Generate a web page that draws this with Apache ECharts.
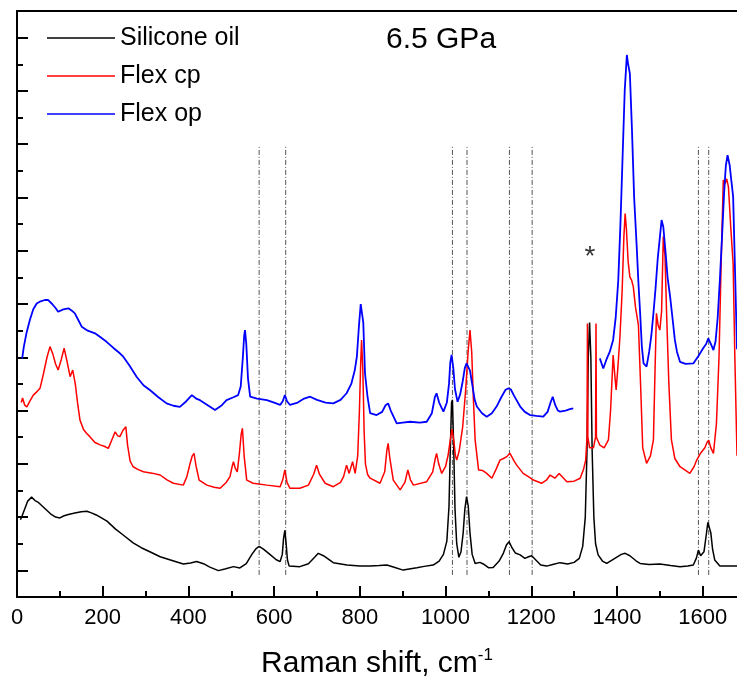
<!DOCTYPE html>
<html>
<head>
<meta charset="utf-8">
<script src="https://cdn.jsdelivr.net/npm/echarts@6/dist/echarts.min.js"></script>
<style>
  html, body { margin: 0; padding: 0; background: #ffffff; }
  #chart { width: 737px; height: 685px; }
</style>
</head>
<body>
<div id="chart"></div>
<script>
// Axis ticks
const xMajorTicks = [0, 200, 400, 600, 800, 1000, 1200, 1400, 1600];
const xMinorTicks = [100, 300, 500, 700, 900, 1100, 1300, 1500];
const yMajorTicks = [1, 3, 5, 7, 9, 11, 13, 15, 17, 19, 21];
const yMinorTicks = [2, 4, 6, 8, 10, 12, 14, 16, 18, 20];

const seriesNames = ['Silicone oil', 'Flex cp', 'Flex op'];
const pressureLabel = '6.5 GPa';

// Raman spectra: [shift in cm-1, intensity (a.u., stacked)]
const siliconeOil = [
  [8,2.9],[12,3.05],[18,3.3],[25,3.6],[34,3.75],[42,3.62],[50,3.55],[60,3.4],[70,3.25],[80,3.1],
  [90,3.0],[100,2.97],[110,3.05],[120,3.1],[135,3.15],[150,3.2],[163,3.22],[175,3.15],[185,3.08],[194,3.0],
  [210,2.85],[230,2.55],[250,2.3],[271,2.03],[290,1.85],[310,1.7],[334,1.51],[360,1.38],[388,1.24],[405,1.28],
  [419,1.33],[435,1.25],[450,1.12],[470,0.99],[485,1.05],[505,1.14],[520,1.09],[535,1.25],[548,1.6],[558,1.82],
  [565,1.9],[575,1.8],[590,1.6],[605,1.4],[614,1.33],[619,1.6],[622,2.2],[625,2.5],[628,2.0],[631,1.4],
  [635,1.16],[660,1.14],[680,1.25],[695,1.5],[703,1.64],[715,1.55],[738,1.29],[770,1.2],[800,1.16],[824,1.16],
  [845,1.18],[863,1.2],[880,1.12],[901,1.01],[915,1.05],[933,1.1],[950,1.15],[971,1.2],[985,1.35],[995,1.6],
  [1003,2.1],[1008,3.4],[1011,5.5],[1014,7.3],[1016,7.4],[1019,5.6],[1022,3.3],[1026,2.0],[1031,1.49],[1036,1.7],
  [1041,2.4],[1045,3.3],[1049,3.77],[1053,3.4],[1057,2.4],[1062,1.6],[1069,1.26],[1080,1.3],[1088,1.24],[1100,1.1],
  [1111,1.11],[1125,1.35],[1135,1.65],[1142,1.95],[1148,2.08],[1155,1.85],[1163,1.65],[1174,1.58],[1185,1.45],[1195,1.52],
  [1201,1.55],[1210,1.4],[1222,1.2],[1236,1.16],[1250,1.22],[1267,1.29],[1285,1.24],[1300,1.3],[1312,1.45],[1320,1.9],
  [1326,3.0],[1330,5.5],[1333,9.0],[1336,10.3],[1339,9.0],[1342,5.5],[1346,3.0],[1350,2.0],[1356,1.58],[1366,1.35],
  [1376,1.26],[1395,1.45],[1410,1.6],[1419,1.64],[1430,1.55],[1445,1.35],[1454,1.26],[1475,1.22],[1500,1.24],[1525,1.18],
  [1547,1.14],[1565,1.16],[1578,1.2],[1585,1.45],[1590,1.76],[1595,1.55],[1598,1.49],[1603,1.7],[1608,2.3],[1612,2.8],
  [1615,2.85],[1619,2.4],[1623,1.8],[1628,1.39],[1640,1.16],[1660,1.16],[1680,1.16]
];

const flexCp = [
  [10,7.3],[13,7.47],[18,7.2],[23,7.14],[30,7.35],[38,7.58],[46,7.7],[54,7.85],[62,8.4],[70,9.0],
  [77,9.4],[84,9.1],[90,8.75],[96,8.52],[103,8.9],[110,9.34],[116,8.9],[124,8.27],[130,8.52],[136,8.0],
  [142,7.2],[147,6.64],[155,6.3],[162,6.15],[170,6.02],[182,5.8],[194,5.71],[205,5.65],[213,5.58],[220,5.85],
  [229,6.2],[235,6.05],[240,6.02],[247,6.25],[254,6.39],[258,5.7],[264,5.1],[271,4.89],[283,4.78],[295,4.7],
  [315,4.65],[334,4.58],[350,4.4],[365,4.27],[388,4.2],[396,4.5],[404,5.02],[409,5.3],[413,5.39],[418,4.9],
  [425,4.39],[443,4.2],[460,4.12],[474,4.08],[488,4.3],[497,4.52],[502,4.9],[505,5.08],[509,4.85],[514,4.7],
  [519,5.4],[523,6.1],[526,6.33],[530,5.3],[536,4.39],[551,4.27],[583,4.2],[614,4.14],[620,4.4],[625,4.77],
  [630,4.3],[637,4.08],[660,4.08],[680,4.2],[692,4.6],[699,4.95],[706,4.6],[719,4.27],[738,4.14],[755,4.3],
  [762,4.52],[769,4.95],[775,4.64],[783,5.08],[789,4.64],[795,5.3],[799,7.0],[802,8.8],[804,9.65],[807,8.5],
  [810,6.2],[813,5.0],[818,4.6],[824,4.46],[847,4.27],[858,4.7],[863,5.5],[866,5.77],[870,5.2],[878,4.39],
  [894,4.02],[905,4.3],[912,4.77],[918,4.4],[925,4.2],[956,4.33],[970,4.7],[976,5.2],[979,5.39],[984,5.0],
  [991,4.64],[1000,4.9],[1006,5.33],[1011,5.9],[1015,6.3],[1019,5.9],[1023,5.3],[1026,5.14],[1032,5.5],[1040,6.4],
  [1047,7.8],[1053,9.3],[1057,10.02],[1061,9.2],[1065,7.4],[1069,5.9],[1077,4.77],[1086,4.75],[1096,4.64],[1108,4.46],
  [1118,4.8],[1127,5.14],[1135,5.2],[1143,5.27],[1150,5.4],[1154,5.45],[1160,5.1],[1166,4.95],[1181,4.64],[1195,4.5],
  [1205,4.39],[1224,4.27],[1236,4.4],[1244,4.58],[1255,4.46],[1265,4.64],[1283,4.33],[1300,4.35],[1314,4.46],[1322,4.8],
  [1327,5.14],[1330,6.0],[1331,10.27],[1332,6.0],[1336,5.6],[1345,5.6],[1350,6.0],[1351,10.27],[1352,6.0],[1360,5.7],
  [1370,5.6],[1380,5.9],[1385,7.0],[1391,9.08],[1395,8.3],[1398,7.77],[1402,8.6],[1407,9.8],[1412,11.5],[1416,13.5],
  [1419,14.4],[1422,13.8],[1426,12.6],[1430,12.02],[1434,11.9],[1438,11.65],[1443,10.9],[1450,10.2],[1455,8.0],[1460,5.6],
  [1469,5.02],[1478,5.3],[1485,5.9],[1488,8.0],[1492,10.65],[1496,10.2],[1500,10.02],[1504,10.71],[1508,13.53],[1512,12.8],
  [1516,10.5],[1521,8.0],[1527,5.9],[1535,5.2],[1547,4.89],[1560,4.75],[1570,4.64],[1580,4.9],[1586,5.14],[1595,5.4],
  [1605,5.6],[1610,5.8],[1614,5.89],[1619,5.6],[1625,5.39],[1632,6.5],[1638,9.0],[1643,12.5],[1648,15.65],[1652,15.5],
  [1656,15.7],[1660,15.4],[1665,14.0],[1671,12.5],[1675,9.0],[1680,5.3]
];

// The diamond region (about 1300-1360 cm-1) is left out of this spectrum
const flexOp = [
  [12,8.95],[16,9.4],[22,9.9],[30,10.4],[38,10.8],[46,11.02],[55,11.1],[65,11.15],[73,11.15],[82,11.0],
  [90,10.85],[96,10.71],[108,10.8],[120,10.84],[128,10.75],[135,10.65],[143,10.4],[151,10.15],[165,10.0],[182,9.9],
  [195,9.75],[209,9.58],[225,9.35],[240,9.15],[248,9.02],[262,8.7],[279,8.27],[295,7.95],[310,7.77],[330,7.5],
  [349,7.27],[365,7.18],[380,7.14],[395,7.35],[408,7.58],[418,7.45],[427,7.39],[445,7.2],[462,7.02],[478,7.2],
  [489,7.39],[505,7.5],[516,7.58],[522,7.9],[527,9.0],[530,9.8],[532,10.02],[535,9.5],[539,8.2],[544,7.52],
  [560,7.45],[583,7.39],[600,7.3],[614,7.21],[620,7.35],[625,7.58],[630,7.35],[637,7.21],[655,7.3],[670,7.45],
  [684,7.52],[700,7.4],[720,7.3],[738,7.27],[755,7.4],[769,7.65],[780,8.0],[788,8.5],[793,9.02],[798,10.2],
  [802,11.0],[805,11.02],[808,10.3],[812,8.4],[818,7.5],[824,6.9],[839,6.83],[852,6.95],[860,7.2],[866,7.27],
  [872,7.0],[886,6.52],[900,6.55],[917,6.58],[940,6.55],[956,6.58],[968,6.9],[975,7.5],[979,7.65],[985,7.3],
  [995,6.96],[1003,7.3],[1008,8.0],[1011,8.8],[1014,9.09],[1018,8.6],[1022,7.8],[1028,7.33],[1034,7.6],[1040,8.1],
  [1045,8.6],[1049,8.77],[1053,8.7],[1057,8.5],[1063,7.9],[1068,7.4],[1073,7.15],[1085,6.9],[1096,6.77],[1108,6.9],
  [1119,7.15],[1130,7.5],[1140,7.78],[1146,7.83],[1152,7.8],[1160,7.55],[1174,7.15],[1185,6.95],[1197,6.83],[1212,6.8],
  [1228,6.77],[1238,6.95],[1245,7.3],[1250,7.52],[1256,7.2],[1262,7.0],[1267,6.96],[1280,7.0],[1290,7.05],[1298,7.08],
  [1330,null],
  [1360,8.96],[1368,8.58],[1375,8.9],[1383,9.2],[1391,9.65],[1397,10.5],[1403,11.9],[1408,14.0],[1413,16.5],[1418,19.0],
  [1423,20.35],[1426,20.0],[1430,19.66],[1435,17.5],[1440,15.0],[1446,13.15],[1450,11.8],[1454,10.65],[1458,9.4],[1462,8.77],
  [1469,8.65],[1475,9.2],[1480,9.8],[1485,10.65],[1490,11.6],[1495,12.7],[1500,13.5],[1504,14.15],[1508,13.9],[1513,13.0],
  [1518,12.0],[1524,11.27],[1530,10.4],[1535,9.65],[1540,9.2],[1547,8.83],[1560,8.75],[1578,8.77],[1590,9.05],[1601,9.34],
  [1608,9.5],[1613,9.71],[1619,9.5],[1625,9.27],[1630,9.6],[1635,10.5],[1640,11.9],[1645,13.5],[1650,15.2],[1654,16.2],
  [1658,16.59],[1663,16.2],[1667,15.6],[1671,15.03],[1675,12.5],[1680,9.3]
];

// Reference band positions (dash-dot guides) and their vertical extent
const guideShifts = [565, 627, 1016, 1050, 1149, 1202, 1590, 1614];
const guideRange = [0.83, 16.97];

// Diamond line marker
const markerPoint = [1337, 12.76];
const markerText = '*';

const FONT = '"Liberation Sans", Arial, sans-serif';

// Build the guide segments as one broken line
const guideData = [];
guideShifts.forEach(function (s) {
  guideData.push([s, guideRange[0]], [s, guideRange[1]], [s, null]);
});

const chart = echarts.init(document.getElementById('chart'), null, { renderer: 'canvas' });

const commonX = { type: 'value', min: 0, max: 1680, splitLine: { show: false } };
const commonY = { type: 'value', min: 0, max: 22, splitLine: { show: false } };

chart.setOption({
  animation: false,
  backgroundColor: '#ffffff',
  grid: { left: 17, right: 0, top: 11, bottom: 88, containLabel: false },
  title: {
    text: pressureLabel,
    left: 386, top: 25, padding: 0,
    textStyle: { fontFamily: FONT, fontSize: 30, fontWeight: 'normal', color: '#000' }
  },
  legend: {
    data: seriesNames,
    orient: 'vertical',
    left: 47, top: 25, padding: 0,
    icon: 'rect',
    itemWidth: 68, itemHeight: 1.5, itemGap: 12, itemTextGap: 10,
    textStyle: { fontFamily: FONT, fontSize: 25, color: '#000', lineHeight: 26 }
  },
  xAxis: [
    Object.assign({}, commonX, {
      position: 'bottom',
      axisLine: { show: true, onZero: false, lineStyle: { color: '#000', width: 2 } },
      axisTick: { show: true, inside: true, length: 11, customValues: xMajorTicks, lineStyle: { color: '#000', width: 2 } },
      axisLabel: {
        show: true, customValues: xMajorTicks, margin: 10,
        fontFamily: FONT, fontSize: 22, color: '#000',
        formatter: function (v) { return String(v); }
      },
      name: '{a|Raman shift, cm}{b|-1}',
      nameLocation: 'middle', nameGap: 50,
      nameTextStyle: {
        fontFamily: FONT, color: '#000',
        rich: {
          a: { fontFamily: FONT, fontSize: 30, color: '#000', lineHeight: 34 },
          b: { fontFamily: FONT, fontSize: 17, color: '#000', verticalAlign: 'top', lineHeight: 18 }
        }
      }
    }),
    Object.assign({}, commonX, {
      position: 'bottom',
      axisLine: { show: false },
      axisTick: { show: true, inside: true, length: 6, customValues: xMinorTicks, lineStyle: { color: '#000', width: 2 } },
      axisLabel: { show: false }
    }),
    Object.assign({}, commonX, {
      position: 'top',
      axisLine: { show: true, onZero: false, lineStyle: { color: '#000', width: 2 } },
      axisTick: { show: false },
      axisLabel: { show: false }
    })
  ],
  yAxis: [
    Object.assign({}, commonY, {
      position: 'left',
      axisLine: { show: true, onZero: false, lineStyle: { color: '#000', width: 2 } },
      axisTick: { show: true, inside: true, length: 11, customValues: yMajorTicks, lineStyle: { color: '#000', width: 2 } },
      axisLabel: { show: false }
    }),
    Object.assign({}, commonY, {
      position: 'left',
      axisLine: { show: false },
      axisTick: { show: true, inside: true, length: 6, customValues: yMinorTicks, lineStyle: { color: '#000', width: 2 } },
      axisLabel: { show: false }
    })
  ],
  series: [
    {
      name: 'guides', type: 'line', data: guideData, symbol: 'none', silent: true,
      connectNulls: false, z: 1,
      lineStyle: { color: '#555', width: 1, type: [5, 2, 1, 2] }
    },
    {
      name: seriesNames[0], type: 'line', data: siliconeOil, symbol: 'none', z: 3,
      lineStyle: { color: '#000000', width: 1.5 }, itemStyle: { color: '#000000' }
    },
    {
      name: seriesNames[1], type: 'line', data: flexCp, symbol: 'none', z: 3,
      lineStyle: { color: '#ff0000', width: 1.5 }, itemStyle: { color: '#ff0000' }
    },
    {
      name: seriesNames[2], type: 'line', data: flexOp, symbol: 'none', z: 4, connectNulls: false,
      lineStyle: { color: '#0000ff', width: 1.8 }, itemStyle: { color: '#0000ff' }
    },
    {
      name: 'marker', type: 'scatter', data: [markerPoint], symbolSize: 0, silent: true, z: 5,
      label: {
        show: true, position: 'inside', formatter: markerText,
        fontFamily: FONT, fontSize: 28, color: '#000'
      }
    }
  ]
});
</script>
</body>
</html>
